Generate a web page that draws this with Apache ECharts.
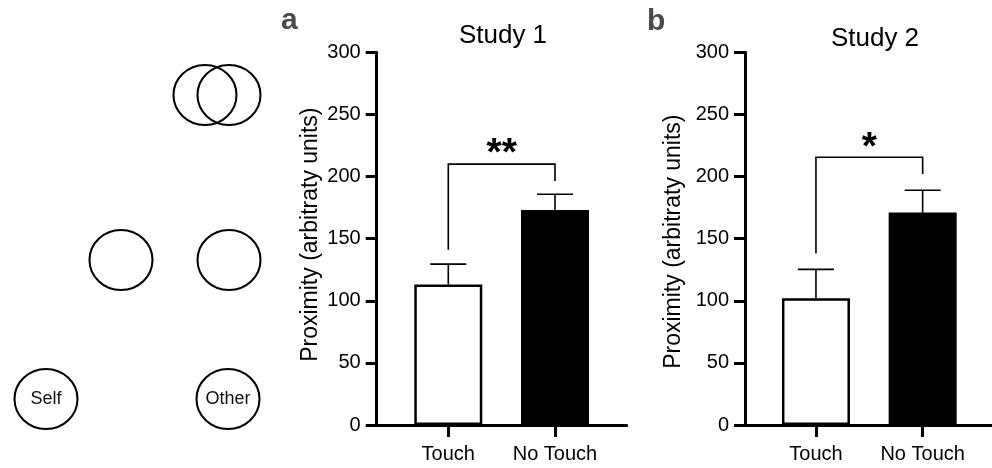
<!DOCTYPE html>
<html><head><meta charset="utf-8">
<script src="https://cdn.jsdelivr.net/npm/echarts@6/dist/echarts.min.js"></script>
<style>html,body{margin:0;padding:0;background:#fff}#c{width:992px;height:468px}</style>
</head><body><div id="c"></div>
<script>
// ---- data ----
const categories = ['Touch', 'No Touch'];
const study1Mean = [113, 173];
const study1Upper = [129.5, 185.7];
const study2Mean = [102, 171];
const study2Upper = [125.3, 189];
// significance brackets: [left end, top, right end]
const bracket1 = [141, 210, 196.5];
const bracket2 = [138, 215.5, 202];
const star1 = '**', star1Y = 225;
const star2 = '*', star2Y = 230.3;
const yMin = 0, yMax = 300, yStep = 50;
// schematic (IOS-like) circles: rows top->bottom
const schemRowY = [95, 260, 399];
const schemSelfX = [205, 121, 46];
const schemOtherX = [229, 229, 228];
const schemSelfLabel = ['', '', 'Self'];
const schemOtherLabel = ['', '', 'Other'];

const FONT = 'Liberation Sans, Arial, Helvetica, sans-serif';
const chart = echarts.init(document.getElementById('c'), null, {renderer: 'canvas'});

function errRender(params, api) {
  const x = api.value(0), m = api.value(1), u = api.value(2);
  const a = api.coord([x, m]), b = api.coord([x, u]);
  const st = {stroke: '#000', lineWidth: 1.6};
  return {type: 'group', children: [
    {type: 'line', shape: {x1: a[0], y1: a[1], x2: b[0], y2: b[1]}, style: st},
    {type: 'line', shape: {x1: b[0] - 18, y1: b[1], x2: b[0] + 18, y2: b[1]}, style: st}
  ]};
}
function bracketRender(params, api) {
  const x1 = api.value(0), x2 = api.value(1);
  const p1 = api.coord([x1, api.value(2)]), p2 = api.coord([x1, api.value(3)]);
  const p3 = api.coord([x2, api.value(3)]), p4 = api.coord([x2, api.value(4)]);
  return {type: 'polyline', shape: {points: [p1, p2, p3, p4]},
    style: {stroke: '#000', lineWidth: 1.6, fill: null}};
}
function starRender(text) {
  return function (params, api) {
    const p = api.coord([api.value(0), api.value(1)]);
    return {type: 'text', x: p[0], y: p[1] + 9,
      style: {text: text, fontSize: 39, fontWeight: 'bold', fontFamily: FONT, fill: '#000',
        align: 'center', verticalAlign: 'middle', textAlign: 'center', textVerticalAlign: 'middle'}};
  };
}

function xAxisCfg(gi, min, max) {
  return {
    type: 'value', gridIndex: gi, min: min, max: max,
    splitLine: {show: false},
    axisLine: {show: true, onZero: false, lineStyle: {color: '#000', width: 3}},
    axisTick: {show: true, customValues: [0, 1], length: 12, lineStyle: {color: '#000', width: 3}},
    axisLabel: {show: true, customValues: [0, 1], margin: 19, fontSize: 20, color: '#000', fontFamily: FONT,
      formatter: v => categories[Math.round(v)]}
  };
}
function yAxisCfg(gi, gap, pad) {
  return {
    type: 'value', gridIndex: gi, min: yMin, max: yMax, interval: yStep,
    splitLine: {show: false},
    axisLine: {show: true, onZero: false, lineStyle: {color: '#000', width: 3}},
    axisTick: {show: true, length: 11, lineStyle: {color: '#000', width: 3}},
    axisLabel: {margin: 16, fontSize: 20, color: '#000', fontFamily: FONT},
    name: 'Proximity (arbitraty units)', nameLocation: 'middle', nameRotate: 90, nameGap: gap,
    nameTextStyle: {fontSize: 23, color: '#000', fontFamily: FONT, padding: pad}
  };
}
function barData(mean) {
  return categories.map((c, i) => ({
    value: [i, mean[i]],
    itemStyle: {color: i === 0 ? '#fff' : '#000', borderColor: '#000', borderWidth: 2.5}
  }));
}

const option = {
  backgroundColor: '#fff',
  animation: false,
  textStyle: {fontFamily: FONT},
  title: [
    {text: 'a', left: 276, top: 1, textStyle: {fontSize: 30, fontWeight: 'bold', color: '#4a4a4a', fontFamily: FONT}},
    {text: 'b', left: 642, top: 2, textStyle: {fontSize: 30, fontWeight: 'bold', color: '#4a4a4a', fontFamily: FONT}},
    {text: 'Study 1', left: 498, top: 18, textAlign: 'center', textStyle: {fontSize: 26, fontWeight: 'normal', color: '#000', fontFamily: FONT}},
    {text: 'Study 2', left: 870, top: 21, textAlign: 'center', textStyle: {fontSize: 26, fontWeight: 'normal', color: '#000', fontFamily: FONT}}
  ],
  grid: [
    {left: 376.7, top: 52.3, width: 250, height: 372.7},
    {left: 745, top: 52.3, width: 247, height: 372.7},
    {left: 0, top: 0, width: 280, height: 468}
  ],
  xAxis: [
    xAxisCfg(0, -0.671, -0.671 + 250 / 106.7),
    xAxisCfg(1, -0.665, -0.665 + 247 / 106.7),
    {type: 'value', gridIndex: 2, min: 0, max: 280, show: false}
  ],
  yAxis: [
    yAxisCfg(0, 55, [0, 0, 0, 8]),
    yAxisCfg(1, 59.5, [0, 6, 0, 0]),
    {type: 'value', gridIndex: 2, min: 0, max: 468, inverse: true, show: false}
  ],
  series: [
    {type: 'bar', xAxisIndex: 0, yAxisIndex: 0, barWidth: 68, data: barData(study1Mean)},
    {type: 'custom', xAxisIndex: 0, yAxisIndex: 0, renderItem: errRender,
      data: categories.map((c, i) => [i, study1Mean[i], study1Upper[i]])},
    {type: 'custom', xAxisIndex: 0, yAxisIndex: 0, renderItem: bracketRender,
      data: [[0, 1, bracket1[0], bracket1[1], bracket1[2]]]},
    {type: 'custom', xAxisIndex: 0, yAxisIndex: 0, renderItem: starRender(star1), data: [[0.5, star1Y]]},

    {type: 'bar', xAxisIndex: 1, yAxisIndex: 1, barWidth: 68, data: barData(study2Mean)},
    {type: 'custom', xAxisIndex: 1, yAxisIndex: 1, renderItem: errRender,
      data: categories.map((c, i) => [i, study2Mean[i], study2Upper[i]])},
    {type: 'custom', xAxisIndex: 1, yAxisIndex: 1, renderItem: bracketRender,
      data: [[0, 1, bracket2[0], bracket2[1], bracket2[2]]]},
    {type: 'custom', xAxisIndex: 1, yAxisIndex: 1, renderItem: starRender(star2), data: [[0.5, star2Y]]},

    {type: 'scatter', xAxisIndex: 2, yAxisIndex: 2, symbol: 'circle', symbolSize: [63, 60],
      itemStyle: {color: 'rgba(0,0,0,0)', borderColor: '#000', borderWidth: 2, opacity: 1},
      label: {show: true, position: 'inside', fontSize: 18, color: '#111', fontFamily: FONT,
        formatter: p => p.name},
      data: schemRowY.flatMap((y, i) => [
        {name: schemSelfLabel[i], value: [schemSelfX[i], y]},
        {name: schemOtherLabel[i], value: [schemOtherX[i], y]}
      ])}
  ]
};
chart.setOption(option);
</script></body></html>
